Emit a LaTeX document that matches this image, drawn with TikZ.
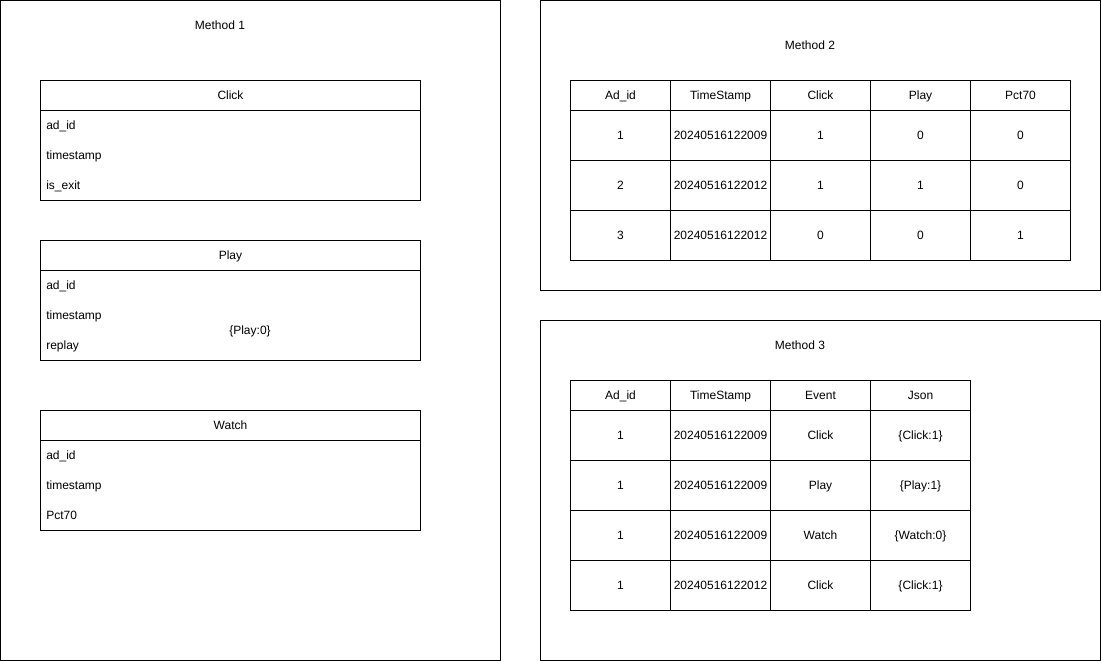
\documentclass[tikz,border=0pt]{standalone}
\usepackage{fontspec}
\setmainfont{Liberation Sans}
\begin{document}
\begin{tikzpicture}[x=0.75pt,y=-0.75pt,
  every node/.style={font=\fontsize{9}{11}\selectfont, inner sep=0pt, text height=7.9pt, text depth=1.9pt},
  frame/.style={draw, line width=0.75pt},
  cell/.style={draw, line width=0.75pt, minimum width=75pt},
  hcell/.style={cell, minimum height=22.5pt},
  bcell/.style={cell, minimum height=37.5pt},
  ehead/.style={draw, line width=0.75pt, minimum width=285pt, minimum height=22.5pt},
  ebody/.style={draw, line width=0.75pt, minimum width=285pt, minimum height=67.5pt},
  field/.style={anchor=west},
  title/.style={}]
\useasboundingbox (0,0) rectangle (1101,661);
% outer frames
\draw[frame] (0.5,0.5) rectangle (500.5,660.5);
\draw[frame] (540.5,0.5) rectangle (1100.5,290.5);
\draw[frame] (540.5,320.5) rectangle (1100.5,660.5);
\node[title] (m1) at (220,25) {Method 1};
\node[title] (m2) at (810,45) {Method 2};
\node[title] (m3) at (800,345) {Method 3};
% Method 1 entities
\node[ebody] (clickb) at (230.5,155.5) {};
\node[ehead] (clickh) at (230.5,95.5) {Click};
\node[field] (c1) at (46,125) {ad\_id};
\node[field] (c2) at (46,155) {timestamp};
\node[field] (c3) at (46,185) {is\_exit};
\node[ebody] (playb) at (230.5,315.5) {};
\node[ehead] (playh) at (230.5,255.5) {Play};
\node[field] (p1) at (46,285) {ad\_id};
\node[field] (p2) at (46,315) {timestamp};
\node[field] (p3) at (46,345) {replay};
\node (pj) at (250,330) {\{Play:0\}};
\node[ebody] (watchb) at (230.5,485.5) {};
\node[ehead] (watchh) at (230.5,425.5) {Watch};
\node[field] (w1) at (46,455) {ad\_id};
\node[field] (w2) at (46,485) {timestamp};
\node[field] (w3) at (46,515) {Pct70};
% Method 2 table
\foreach \t [count=\i] in {Ad\_id,TimeStamp,Click,Play,Pct70}
  \node[hcell] (a0\i) at (520.5+100*\i,95.5) {\t};
\foreach \r/\y/\a/\b/\c/\d/\e in {1/135.5/1/20240516122009/1/0/0, 2/185.5/2/20240516122012/1/1/0, 3/235.5/3/20240516122012/0/0/1}{
  \node[bcell] (a\r1) at (620.5,\y) {\a};
  \node[bcell] (a\r2) at (720.5,\y) {\b};
  \node[bcell] (a\r3) at (820.5,\y) {\c};
  \node[bcell] (a\r4) at (920.5,\y) {\d};
  \node[bcell] (a\r5) at (1020.5,\y) {\e};
}
% Method 3 table
\foreach \t [count=\i] in {Ad\_id,TimeStamp,Event,Json}
  \node[hcell] (b0\i) at (520.5+100*\i,395.5) {\t};
\foreach \r/\y/\a/\b/\c/\d in {1/435.5/1/20240516122009/Click/\{Click:1\}, 2/485.5/1/20240516122009/Play/\{Play:1\}, 3/535.5/1/20240516122009/Watch/\{Watch:0\}, 4/585.5/1/20240516122012/Click/\{Click:1\}}{
  \node[bcell] (b\r1) at (620.5,\y) {\a};
  \node[bcell] (b\r2) at (720.5,\y) {\b};
  \node[bcell] (b\r3) at (820.5,\y) {\c};
  \node[bcell] (b\r4) at (920.5,\y) {\d};
}
\end{tikzpicture}
\end{document}
